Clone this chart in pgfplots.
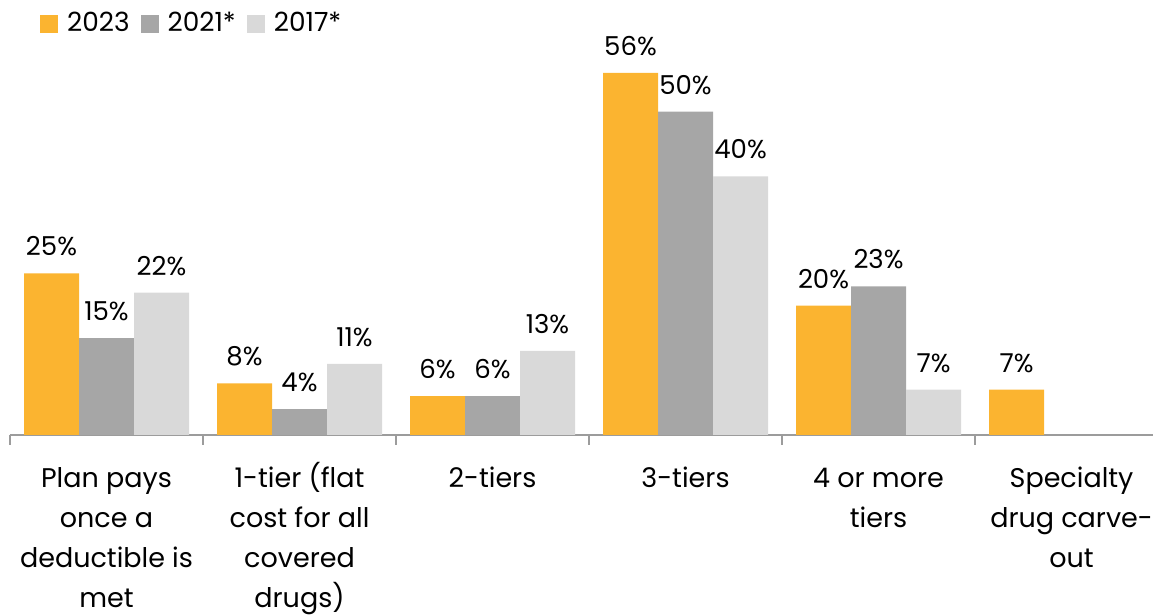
\documentclass[border=0pt]{standalone}
\usepackage{fontspec}
\setmainfont{Poppins}
\usepackage{pgfplots}
\pgfplotsset{compat=1.18}
\definecolor{cnew}{HTML}{FBB430}
\definecolor{cmid}{HTML}{A6A6A6}
\definecolor{cold}{HTML}{D9D9D9}
\definecolor{axisgray}{HTML}{9C9C9C}
\begin{document}
\begin{tikzpicture}
\begin{axis}[
    at={(0,0)}, anchor=south west,
    scale only axis,
    width=571.5pt, height=194pt,
    xmin=-0.5, xmax=5.422,
    ymin=0, ymax=60,
    ybar=0pt, bar width=27.5pt,
    axis x line=bottom, axis y line=none,
    x axis line style={-, draw=axisgray, line width=1pt},
    xtick={0,1,2,3,4,5},
    xticklabels={{\strut Plan pays\\once a\\deductible is\\met},
                 {\strut 1-tier (flat\\cost for all\\covered\\drugs)},
                 {\strut 2-tiers}, {\strut 3-tiers},
                 {\strut 4 or more\\tiers},
                 {\strut Specialty\\drug carve-\\out}},
    major tick length=0pt,
    minor xtick={-0.5,0.5,1.5,2.5,3.5,4.5},
    minor tick length=5pt,
    tick align=outside,
    minor tick style={draw=axisgray, line width=1pt},
    xticklabel style={align=center, font=\fontsize{13.5}{20}\selectfont, anchor=north, yshift=-8.5pt},
    /pgf/number format/assume math mode=true,
    nodes near coords={\pgfmathprintnumber{\pgfplotspointmeta}\%},
    every node near coord/.append style={font=\fontsize{13}{15}\selectfont, text=black, yshift=5pt},
    legend style={at={(axis description cs:0.026,1.06)}, anchor=west, draw=none,
        font=\fontsize{13.2}{15}\selectfont, inner sep=0pt},
    legend columns=-1,
    legend image code/.code={\fill[#1] (0pt,-4.5pt) rectangle (9pt,4.5pt);},
    /tikz/every even column/.append style={column sep=3.5pt},
    /tikz/every odd column/.append style={column sep=2.5pt},
]
\addplot[fill=cnew, draw=none] coordinates {(0,25) (1,8) (2,6) (3,56) (4,20) (5,7)};
\addplot[fill=cmid, draw=none] coordinates {(0,15) (1,4) (2,6) (3,50) (4,23)};
\addplot[fill=cold, draw=none] coordinates {(0,22) (1,11) (2,13) (3,40) (4,7)};
\legend{2023, 2021*, 2017*}
\end{axis}
\pgfresetboundingbox
\useasboundingbox (-5pt,-90pt) rectangle (571.5pt,217.5pt);
\end{tikzpicture}
\end{document}
